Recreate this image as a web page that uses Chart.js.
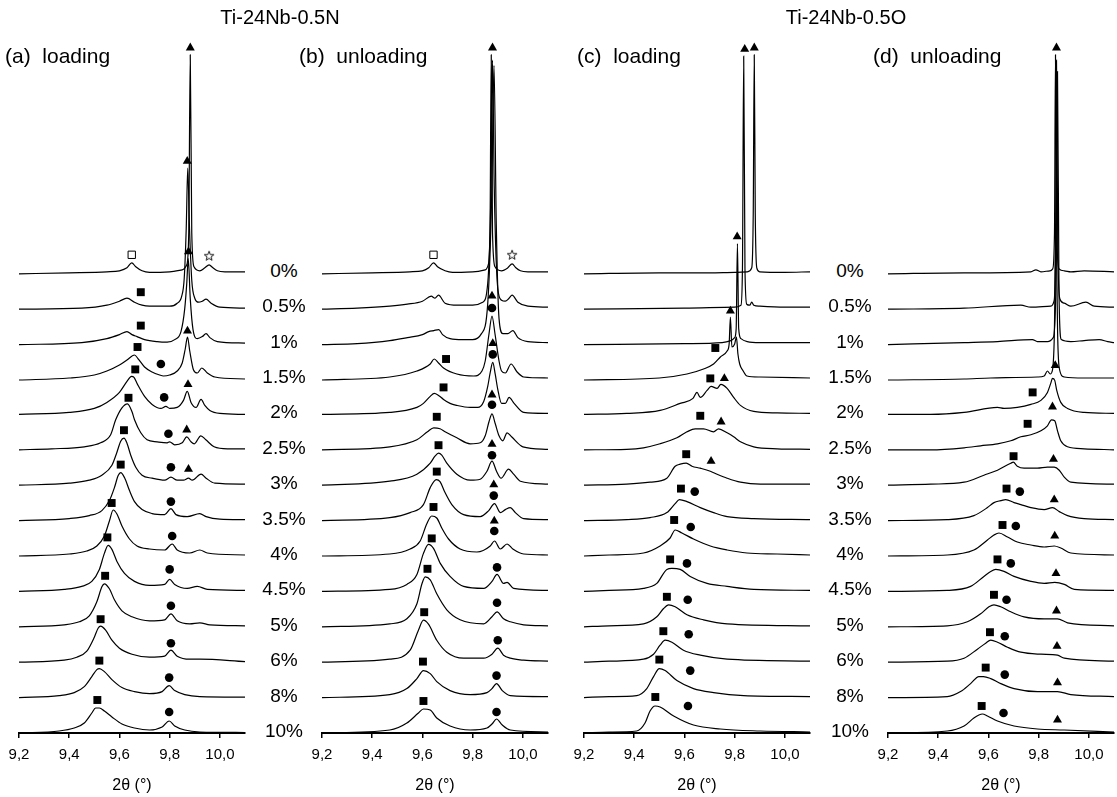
<!DOCTYPE html>
<html>
<head>
<meta charset="utf-8">
<title>Ti-24Nb in situ XRD</title>
<script src="https://cdn.jsdelivr.net/npm/chart.js@4.4.1/dist/chart.umd.min.js"></script>
<style>
  html, body { margin: 0; padding: 0; background: #fff; }
  body { position: relative; width: 1117px; height: 797px; overflow: hidden;
         font-family: "Liberation Sans", Arial, Helvetica, sans-serif; color: #000; }
  .panel { position: absolute; top: 0; width: 266px; height: 797px; }
  .lbl { position: absolute; white-space: pre; line-height: 1; }
</style>
</head>
<body>
<div class="panel" style="left:-1px"><canvas id="pa"></canvas></div>
<div class="panel" style="left:302px"><canvas id="pb"></canvas></div>
<div class="panel" style="left:564px"><canvas id="pc"></canvas></div>
<div class="panel" style="left:868px"><canvas id="pd"></canvas></div>
<script>
const strains = ['0%', '0.5%', '1%', '1.5%', '2%', '2.5%', '3%', '3.5%', '4%', '4.5%', '5%', '6%', '8%', '10%'];
const xTicks = [9.2, 9.4, 9.6, 9.8, 10.0];

// scans are [2theta, intensity above own baseline], one list per strain step
const scansA = [
  [[9.2,-1],[9.4,0],[9.55,1],[9.6,2],[9.63,5],[9.649,10],[9.665,6],[9.69,2],[9.72,0.5],[9.8,1],[9.85,3],[9.868,8],[9.876,40],[9.882,218],[9.888,40],[9.897,6],[9.92,2],[9.94,5],[9.957,8],[9.972,5],[9.99,2],[10.02,1],[10.1,1]],
  [[9.2,-1],[9.45,0],[9.55,3],[9.6,7],[9.63,10],[9.66,6],[9.69,3],[9.72,2],[9.8,2],[9.83,5],[9.848,12],[9.858,30],[9.866,80],[9.872,140],[9.879,80],[9.888,28],[9.9,10],[9.915,6],[9.93,7],[9.945,9],[9.965,5],[10.0,1],[10.1,0]],
  [[9.2,-1],[9.45,1],[9.55,5],[9.6,9],[9.63,12],[9.65,9],[9.67,7],[9.7,4],[9.75,2],[9.79,1.5],[9.82,4],[9.845,12],[9.86,35],[9.868,60],[9.874,85],[9.882,45],[9.893,14],[9.91,5],[9.93,7],[9.945,10],[9.96,6],[9.99,2],[10.1,0.5]],
  [[9.2,-1],[9.4,1],[9.5,4],[9.55,8],[9.6,14],[9.63,19],[9.66,24],[9.675,20],[9.7,12],[9.73,7],[9.76,4],[9.775,3],[9.8,4],[9.83,8],[9.85,16],[9.862,30],[9.871,42],[9.88,28],[9.895,9],[9.91,6],[9.928,11],[9.95,6],[9.98,2],[10.1,0]],
  [[9.2,0],[9.4,2],[9.5,6],[9.55,12],[9.6,22],[9.63,33],[9.648,38],[9.658,37],[9.672,30],[9.7,18],[9.73,10],[9.765,6],[9.785,8],[9.8,6],[9.83,7],[9.855,14],[9.87,23],[9.885,12],[9.905,7],[9.925,15],[9.94,9],[9.96,4],[10.0,1],[10.1,0]],
  [[9.2,0],[9.33,1],[9.46,3],[9.525,7],[9.565,15],[9.585,30],[9.61,42],[9.632,46],[9.65,38],[9.66,30],[9.685,17],[9.71,10],[9.75,8],[9.79,7],[9.8,8],[9.82,5],[9.85,7],[9.868,13],[9.885,8],[9.898,6],[9.924,14],[9.944,10],[9.977,3],[10.03,1],[10.1,1]],
  [[9.2,0],[9.4,2],[9.48,5],[9.53,10],[9.57,20],[9.59,33],[9.605,44],[9.618,47],[9.63,42],[9.645,30],[9.665,18],[9.69,10],[9.73,7],[9.78,5],[9.805,8],[9.83,5],[9.855,5],[9.875,7],[9.89,5],[9.925,11],[9.945,7],[9.98,2],[10.1,1]],
  [[9.2,0],[9.4,2],[9.48,5],[9.53,10],[9.56,20],[9.58,33],[9.595,45],[9.605,48],[9.62,43],[9.64,30],[9.66,19],[9.69,11],[9.73,7],[9.78,6],[9.805,12],[9.825,6],[9.87,4],[9.92,7],[9.945,4],[10.0,1.5],[10.1,1]],
  [[9.2,0],[9.4,2],[9.47,5],[9.51,10],[9.54,20],[9.56,35],[9.575,46],[9.59,42],[9.61,30],[9.64,17],[9.67,10],[9.72,7],[9.78,6],[9.81,12],[9.83,6],[9.88,3],[9.92,6],[9.95,3],[10.1,1]],
  [[9.2,0],[9.38,2],[9.45,5],[9.49,10],[9.52,22],[9.54,38],[9.555,46],[9.57,42],[9.59,30],[9.62,18],[9.66,10],[9.72,6],[9.78,7],[9.8,12],[9.82,7],[9.87,3],[9.91,5],[9.95,2],[10.1,1]],
  [[9.2,0],[9.38,2],[9.44,5],[9.48,11],[9.51,25],[9.53,40],[9.54,43],[9.56,38],[9.58,27],[9.61,16],[9.65,10],[9.72,6],[9.78,7],[9.805,13],[9.83,6],[9.88,3],[9.92,4],[9.96,2],[10.1,1]],
  [[9.2,0],[9.38,2],[9.43,5],[9.47,11],[9.5,25],[9.515,34],[9.525,36],[9.545,32],[9.57,22],[9.6,14],[9.65,8],[9.72,5],[9.78,6],[9.805,12],[9.83,6],[9.88,3],[9.92,3],[10.1,0.5]],
  [[9.2,0],[9.36,2],[9.42,5],[9.46,11],[9.49,21],[9.51,28],[9.52,29],[9.54,26],[9.57,18],[9.61,10],[9.66,6],[9.72,4],[9.77,6],[9.798,12],[9.82,7],[9.86,3],[9.92,1],[10.1,0.5]],
  [[9.2,0],[9.36,2],[9.42,5],[9.46,10],[9.49,20],[9.505,25],[9.52,25],[9.54,22],[9.57,16],[9.61,9],[9.66,5],[9.72,3],[9.77,6],[9.798,12],[9.82,7],[9.86,3],[9.92,1],[10.1,0.5]]
];

const scansB = [
  [[9.2,-1],[9.4,0],[9.55,1],[9.6,2],[9.625,5],[9.644,10],[9.66,6],[9.69,2],[9.72,0.5],[9.8,1],[9.85,3],[9.862,8],[9.869,40],[9.874,218],[9.879,40],[9.889,6],[9.915,2],[9.94,5],[9.957,9],[9.972,5],[9.99,2],[10.02,1],[10.1,1]],
  [[9.2,-1],[9.34,0],[9.47,2],[9.54,4],[9.6,7],[9.635,12],[9.65,10],[9.664,13],[9.69,5],[9.74,3],[9.8,3],[9.84,6],[9.86,25],[9.873,120],[9.879,248],[9.886,120],[9.9,20],[9.915,8],[9.93,7],[9.945,10],[9.957,13],[9.98,6],[10.02,2],[10.1,1]],
  [[9.2,-1],[9.34,0],[9.47,3],[9.54,6],[9.6,9],[9.625,12],[9.645,13],[9.665,14],[9.68,9],[9.71,5],[9.76,4],[9.8,4],[9.835,10],[9.86,40],[9.876,150],[9.885,278],[9.894,120],[9.905,25],[9.92,10],[9.94,10],[9.96,13],[9.98,6],[10.02,2],[10.1,1]],
  [[9.2,-1],[9.47,2],[9.578,8],[9.631,15],[9.647,20],[9.664,16],[9.684,11],[9.737,5],[9.804,3],[9.837,8],[9.85,18],[9.865,45],[9.877,63],[9.889,45],[9.905,18],[9.915,8],[9.93,6],[9.953,15],[9.977,7],[10.003,2],[10.1,1]],
  [[9.2,0],[9.47,2],[9.578,7],[9.604,11],[9.631,18],[9.647,21],[9.664,19],[9.684,15],[9.71,11],[9.737,9],[9.79,7],[9.82,7],[9.844,13],[9.86,28],[9.87,42],[9.88,52],[9.89,40],[9.9,25],[9.915,11],[9.93,11],[9.945,17],[9.965,11],[10.003,2],[10.1,1]],
  [[9.2,0],[9.47,3],[9.578,10],[9.62,18],[9.645,22],[9.67,21],[9.69,18],[9.737,12],[9.79,6],[9.83,7],[9.85,14],[9.865,28],[9.877,36],[9.89,26],[9.905,14],[9.92,9],[9.937,17],[9.955,13],[10.0,3],[10.1,0.5]],
  [[9.2,0],[9.47,4],[9.578,11],[9.631,22],[9.65,29],[9.664,32],[9.677,30],[9.697,22],[9.737,11],[9.79,5],[9.83,6],[9.857,14],[9.877,24],[9.895,14],[9.913,7],[9.943,16],[9.963,11],[9.99,4],[10.1,1]],
  [[9.2,0],[9.47,3],[9.551,8],[9.604,16],[9.631,33],[9.655,41],[9.67,39],[9.69,28],[9.717,16],[9.764,6],[9.83,4],[9.864,10],[9.887,17],[9.91,8],[9.93,11],[9.95,13],[9.97,8],[10.003,2],[10.1,1]],
  [[9.2,0],[9.47,2],[9.551,7],[9.591,15],[9.617,32],[9.637,40],[9.657,38],[9.677,28],[9.704,17],[9.75,7],[9.817,4],[9.87,10],[9.887,15],[9.91,7],[9.937,12],[9.96,7],[10.003,2],[10.1,1]],
  [[9.2,0],[9.47,2],[9.538,7],[9.578,17],[9.604,38],[9.624,47],[9.644,43],[9.671,28],[9.71,15],[9.764,5],[9.844,3],[9.877,10],[9.897,17],[9.923,8],[9.937,9],[9.963,3],[10.1,1]],
  [[9.2,0],[9.47,3],[9.538,8],[9.578,23],[9.598,43],[9.611,50],[9.631,47],[9.657,33],[9.697,17],[9.75,7],[9.844,3],[9.877,10],[9.897,15],[9.923,8],[9.95,5],[10.003,2],[10.1,1]],
  [[9.2,0],[9.47,3],[9.551,12],[9.584,32],[9.604,42],[9.624,38],[9.657,22],[9.697,10],[9.764,4],[9.844,4],[9.877,8],[9.9,14],[9.923,7],[9.95,4],[10.003,2],[10.1,1]],
  [[9.2,0],[9.47,3],[9.538,9],[9.578,19],[9.604,27],[9.631,24],[9.657,16],[9.71,7],[9.79,3],[9.857,5],[9.877,9],[9.895,14],[9.918,7],[9.95,2],[10.1,1]],
  [[9.2,0],[9.47,3],[9.538,10],[9.584,20],[9.604,24],[9.631,23],[9.657,15],[9.71,7],[9.79,3],[9.857,5],[9.877,9],[9.895,14],[9.918,8],[9.95,3],[10.1,1]]
];

const scansC = [
  [[9.2,-1],[9.5,0],[9.7,0],[9.8,0.5],[9.85,1],[9.868,5],[9.874,60],[9.878,218],[9.882,60],[9.888,5],[9.9,1],[10.0,0.5],[10.1,1]],
  [[9.2,-1],[9.6,0],[9.8,1],[9.825,3],[9.831,40],[9.836,252],[9.841,40],[9.848,4],[9.86,3],[9.868,6],[9.876,3],[9.9,2],[10.0,1],[10.1,1]],
  [[9.2,-1],[9.6,0],[9.75,1],[9.785,3],[9.8,6],[9.806,15],[9.811,100],[9.816,15],[9.825,5],[9.85,2],[9.9,1],[10.1,1]],
  [[9.2,-1],[9.5,1],[9.61,5],[9.676,10],[9.716,15],[9.743,22],[9.77,28],[9.778,35],[9.783,62],[9.789,32],[9.8,35],[9.807,42],[9.813,25],[9.82,15],[9.834,8],[9.849,3],[9.9,2],[10.1,1]],
  [[9.2,0],[9.37,1],[9.503,4],[9.583,11],[9.634,16],[9.65,22],[9.663,17],[9.69,24],[9.706,28],[9.73,26],[9.745,30],[9.77,26],[9.796,17],[9.823,9],[9.876,3],[9.969,1.5],[10.1,1]],
  [[9.2,0],[9.37,0.5],[9.437,2],[9.503,6],[9.57,12],[9.61,18],[9.643,21],[9.676,21],[9.716,18],[9.736,21],[9.77,17],[9.796,13],[9.823,8],[9.876,3],[9.969,1],[10.1,0.5]],
  [[9.2,0],[9.37,1],[9.463,3],[9.53,7],[9.563,19],[9.583,21],[9.607,22],[9.63,19],[9.663,17],[9.703,14],[9.73,11],[9.77,7],[9.823,3],[9.902,1],[10.1,1]],
  [[9.2,0],[9.37,1],[9.463,3],[9.53,8],[9.563,17],[9.58,21],[9.61,19],[9.663,13],[9.716,8],[9.77,4],[9.876,2],[10.1,1]],
  [[9.2,0],[9.3,1],[9.437,3],[9.503,10],[9.543,18],[9.563,26],[9.59,23],[9.636,17],[9.703,10],[9.77,6],[9.849,3],[9.969,2],[10.1,1]],
  [[9.2,0],[9.3,1],[9.437,3],[9.49,8],[9.53,22],[9.55,23],[9.583,22],[9.623,15],[9.69,8],[9.77,5],[9.876,2],[10.1,1]],
  [[9.2,0],[9.3,1],[9.437,3],[9.49,10],[9.516,18],[9.537,22],[9.563,20],[9.61,12],[9.676,7],[9.77,3],[10.1,1]],
  [[9.2,0],[9.3,1],[9.437,3],[9.477,8],[9.503,17],[9.523,22],[9.55,20],[9.596,12],[9.663,7],[9.77,3],[10.1,1]],
  [[9.2,0],[9.3,1],[9.41,2],[9.45,9],[9.477,21],[9.5,29],[9.523,27],[9.57,17],[9.636,9],[9.716,5],[9.836,2],[10.1,1]],
  [[9.2,0],[9.3,1],[9.41,2],[9.443,10],[9.463,22],[9.483,27],[9.503,26],[9.557,17],[9.636,8],[9.743,4],[9.902,2],[10.1,1]]
];

const scansD = [
  [[9.2,-1],[9.503,0],[9.769,1],[9.789,3],[9.809,1],[9.845,2],[9.856,4],[9.863,40],[9.867,218],[9.872,40],[9.881,4],[9.902,2],[9.928,1],[9.981,2],[10.1,1]],
  [[9.2,-1],[9.503,0],[9.729,3],[9.769,1],[9.848,2],[9.862,8],[9.867,60],[9.871,248],[9.876,60],[9.885,9],[9.902,5],[9.928,2],[9.988,6],[10.021,2],[10.1,1]],
  [[9.2,-1],[9.503,1],[9.636,2],[9.775,4],[9.795,2],[9.835,2],[9.858,6],[9.868,50],[9.875,272],[9.881,50],[9.89,4],[9.928,2],[9.981,3],[10.041,4],[10.075,2],[10.1,1]],
  [[9.2,-1],[9.503,0],[9.609,1],[9.795,2],[9.822,3],[9.835,8],[9.846,5],[9.855,9],[9.862,40],[9.869,150],[9.876,40],[9.882,11],[9.902,2],[9.981,1],[10.1,1]],
  [[9.2,0],[9.37,0],[9.503,2],[9.636,7],[9.662,6],[9.715,7],[9.769,10],[9.809,14],[9.835,22],[9.848,31],[9.855,36],[9.864,34],[9.872,24],[9.888,12],[9.915,6],[9.981,2],[10.1,1]],
  [[9.2,0],[9.37,0],[9.503,2],[9.569,4],[9.636,6],[9.689,9],[9.729,13],[9.769,15],[9.809,19],[9.835,24],[9.851,30],[9.864,29],[9.875,19],[9.888,9],[9.915,3],[9.981,1],[10.1,0]],
  [[9.2,0],[9.37,1],[9.503,3],[9.582,10],[9.636,15],[9.689,22],[9.699,23],[9.715,19],[9.742,17],[9.795,17],[9.835,18],[9.862,18],[9.882,15],[9.902,8],[9.928,3],[10.1,1]],
  [[9.2,0],[9.436,1],[9.542,5],[9.596,13],[9.622,18],[9.649,20],[9.669,21],[9.702,18],[9.729,16],[9.769,13],[9.822,11],[9.855,13],[9.882,9],[9.915,5],[9.981,2],[10.1,1]],
  [[9.2,0],[9.436,1],[9.542,6],[9.596,16],[9.622,21],[9.642,23],[9.676,19],[9.715,14],[9.769,11],[9.822,9],[9.862,10],[9.888,8],[9.928,3],[10.1,1]],
  [[9.2,0],[9.436,1],[9.529,5],[9.582,15],[9.609,20],[9.629,22],[9.662,20],[9.702,15],[9.769,10],[9.822,8],[9.864,9],[9.902,7],[9.942,2],[10.1,1]],
  [[9.2,0],[9.436,1],[9.516,5],[9.569,13],[9.602,20],[9.622,22],[9.649,20],[9.689,15],[9.742,10],[9.822,8],[9.875,8],[9.915,4],[10.1,1]],
  [[9.2,0],[9.436,1],[9.503,4],[9.556,13],[9.589,19],[9.609,22],[9.636,20],[9.676,15],[9.729,10],[9.809,8],[9.875,7],[9.902,4],[10.1,1]],
  [[9.2,0],[9.436,1],[9.489,6],[9.529,14],[9.562,21],[9.58,21],[9.609,19],[9.649,14],[9.702,9],[9.795,6],[9.875,6],[9.928,3],[10.1,1]],
  [[9.2,0],[9.436,2],[9.503,7],[9.542,15],[9.562,18],[9.576,19],[9.596,17],[9.636,12],[9.702,7],[9.795,4],[9.902,3],[10.1,1]]
];

// phase markers: [scan index, 2theta, height above that scan's baseline]
const squaresA = [[1,9.685,16],[2,9.685,18],[3,9.672,32],[4,9.663,45],[5,9.636,52],[6,9.618,55],[7,9.605,56],[8,9.569,53],[9,9.552,54],[10,9.543,51],[11,9.525,43],[12,9.52,37],[13,9.512,33]];
const circlesA = [[3,9.765,15],[4,9.778,17],[5,9.795,16],[6,9.805,18],[7,9.805,19],[8,9.81,20],[9,9.8,22],[10,9.805,21],[11,9.805,19],[12,9.798,20],[13,9.798,21]];
const trianglesA = [[0,9.882,225],[1,9.87,147],[2,9.875,92],[3,9.871,48],[4,9.873,30],[5,9.868,20],[6,9.875,16]];
const openSquaresA = [[0,9.649,18]];
const starsA = [[0,9.957,17]];

const squaresB = [[3,9.694,20],[4,9.684,27],[5,9.657,33],[6,9.664,40],[7,9.657,49],[8,9.644,49],[9,9.637,53],[10,9.62,58],[11,9.607,50],[12,9.602,36],[13,9.604,32]];
const circlesB = [[3,9.877,71],[4,9.88,60],[5,9.877,45],[6,9.877,30],[7,9.884,25],[8,9.886,25],[9,9.897,24],[10,9.897,24],[11,9.9,22],[12,9.895,22],[13,9.895,21]];
const trianglesB = [[0,9.879,225],[3,9.877,83],[4,9.88,71],[5,9.877,55],[6,9.877,41],[7,9.884,36],[8,9.886,35]];
const openSquaresB = [[0,9.644,18]];
const starsB = [[0,9.957,18]];

const squaresC = [[3,9.723,31],[4,9.703,36],[5,9.663,34],[6,9.607,31],[7,9.586,32],[8,9.559,36],[9,9.543,32],[10,9.53,30],[11,9.516,31],[12,9.5,38],[13,9.484,36]];
const circlesC = [[7,9.641,29],[8,9.625,29],[9,9.61,28],[10,9.613,27],[11,9.617,28],[12,9.623,27],[13,9.614,27]];
const trianglesC = [[0,9.878,225],[1,9.84,259],[2,9.81,107],[3,9.783,68],[4,9.759,36],[5,9.746,28],[6,9.706,24]];

const squaresD = [[4,9.776,22],[5,9.756,26],[6,9.7,29],[7,9.672,32],[8,9.656,31],[9,9.636,32],[10,9.622,32],[11,9.606,30],[12,9.589,30],[13,9.573,27]];
const circlesD = [[7,9.725,29],[8,9.709,30],[9,9.689,28],[10,9.672,27],[11,9.665,26],[12,9.665,23],[13,9.66,20]];
const trianglesD = [[0,9.871,225],[4,9.866,49],[5,9.855,43],[6,9.859,26],[7,9.862,21],[8,9.864,20],[9,9.869,18],[10,9.871,16],[11,9.873,16],[12,9.875,15],[13,9.875,13]];

const curveStep = 35.4;   // vertical spacing between stacked scans
const yTop = 693;         // plot height in intensity units

Chart.defaults.font.family = '"Liberation Sans", Arial, Helvetica, sans-serif';
Chart.defaults.color = '#000';

function baseOf(i) {
  return (strains.length - 1 - i) * curveStep;
}

function starImage() {
  const c = document.createElement('canvas');
  c.width = 12; c.height = 12;
  const g = c.getContext('2d');
  g.beginPath();
  for (let k = 0; k < 10; k++) {
    const r = k % 2 === 0 ? 5 : 2.1;
    const a = -Math.PI / 2 + k * Math.PI / 5;
    const px = 6 + r * Math.cos(a), py = 6.4 + r * Math.sin(a);
    if (k === 0) g.moveTo(px, py); else g.lineTo(px, py);
  }
  g.closePath();
  g.fillStyle = '#fff';
  g.fill();
  g.lineWidth = 0.9;
  g.strokeStyle = '#000';
  g.stroke();
  return c;
}

const markStyles = {
  square: { shape: 'rect', r: 5.6, fill: '#000', bw: 0 },
  circle: { shape: 'circle', r: 4.3, fill: '#000', bw: 0 },
  triangle: { shape: 'triangle', r: 5.2, fill: '#000', bw: 0 },
  open: { shape: 'rect', r: 5.2, fill: '#fff', bw: 1 },
  star: { shape: starImage(), r: 6, fill: '#fff', bw: 0 }
};

function scanSets(scans) {
  return scans.map((scan, i) => ({
    data: scan.map(([x, y]) => ({ x: x, y: y + baseOf(i) })),
    showLine: true,
    borderColor: '#000',
    borderWidth: 1.2,
    pointRadius: 0,
    cubicInterpolationMode: 'monotone',
    clip: false,
    order: 2
  }));
}

function markSet(list, st) {
  return {
    data: list.map(([i, x, h]) => ({ x: x, y: baseOf(i) + h })),
    showLine: false,
    pointStyle: st.shape,
    pointRadius: st.r,
    pointBackgroundColor: st.fill,
    pointBorderColor: '#000',
    pointBorderWidth: st.bw,
    clip: false,
    order: 1
  };
}

function makePanel(id, scans, marks) {
  const sets = marks.map(([list, st]) => markSet(list, st)).concat(scanSets(scans));
  return new Chart(document.getElementById(id), {
    type: 'scatter',
    data: { datasets: sets },
    options: {
      responsive: true,
      maintainAspectRatio: false,
      animation: false,
      events: [],
      layout: { padding: { left: 20, right: 20, top: 40, bottom: 0 } },
      plugins: { legend: { display: false }, tooltip: { enabled: false } },
      scales: {
        x: {
          type: 'linear', min: 9.2, max: 10.1,
          afterBuildTicks: (s) => { s.ticks = xTicks.map(v => ({ value: v })); },
          afterFit: (s) => { s.height = 64; },
          ticks: {
            callback: (v) => Number(v).toFixed(1).replace('.', ','),
            font: { size: 15 }, color: '#000', padding: 8,
            maxRotation: 0, autoSkip: false
          },
          grid: { drawOnChartArea: false, drawTicks: true, tickLength: 5, color: '#000', lineWidth: 1.5 },
          border: { display: true, color: '#000', width: 2 },
          title: {
            display: true, text: '2θ (°)', font: { size: 16 }, color: '#000',
            padding: { top: 4, bottom: 2 }
          }
        },
        y: { display: false, min: 0, max: yTop }
      }
    }
  });
}

makePanel('pa', scansA, [[squaresA, markStyles.square], [circlesA, markStyles.circle], [trianglesA, markStyles.triangle], [openSquaresA, markStyles.open], [starsA, markStyles.star]]);
makePanel('pb', scansB, [[squaresB, markStyles.square], [circlesB, markStyles.circle], [trianglesB, markStyles.triangle], [openSquaresB, markStyles.open], [starsB, markStyles.star]]);
makePanel('pc', scansC, [[squaresC, markStyles.square], [circlesC, markStyles.circle], [trianglesC, markStyles.triangle]]);
makePanel('pd', scansD, [[squaresD, markStyles.square], [circlesD, markStyles.circle], [trianglesD, markStyles.triangle]]);

// text: alloy titles, panel captions and the strain column between panels
function addText(txt, x, y, size, centred) {
  const d = document.createElement('div');
  d.className = 'lbl';
  d.textContent = txt;
  d.style.fontSize = size + 'px';
  d.style.left = x + 'px';
  d.style.top = y + 'px';
  d.style.transform = centred ? 'translate(-50%,-50%)' : 'translate(0,-50%)';
  document.body.appendChild(d);
}

addText('Ti-24Nb-0.5N', 280, 17, 20, true);
addText('Ti-24Nb-0.5O', 846, 17, 20, true);
addText('(a)  loading', 5, 55, 21, false);
addText('(b)  unloading', 299, 55, 21, false);
addText('(c)  loading', 577, 55, 21, false);
addText('(d)  unloading', 873, 55, 21, false);

const plotBottom = 733;
strains.forEach((s, i) => {
  const y = plotBottom - baseOf(i) - 3;
  addText(s, 284, y, 19, true);
  addText(s, 850, y, 19, true);
});
</script>
</body>
</html>
